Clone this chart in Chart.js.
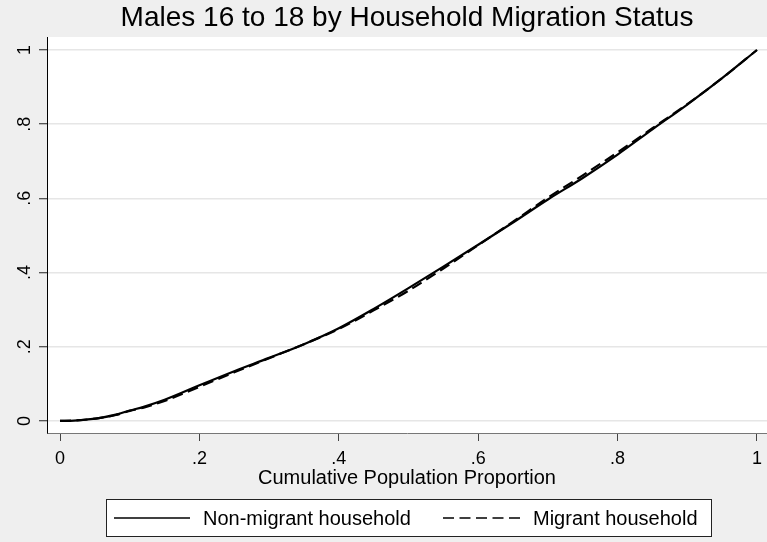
<!DOCTYPE html>
<html>
<head>
<meta charset="utf-8">
<title>Males 16 to 18 by Household Migration Status</title>
<script src="https://cdn.jsdelivr.net/npm/chart.js@4/dist/chart.umd.min.js"></script>
<style>
  html, body { margin: 0; padding: 0; background: #efefef; }
  #wrap { width: 767px; height: 542px; }
</style>
</head>
<body>
<div id="wrap"><canvas id="lorenz" width="767" height="542"></canvas></div>
<script>
// Cumulative population proportion (x) and cumulative share (y) for each group
const popShare = [0, 0.02, 0.04, 0.06, 0.08, 0.10, 0.12, 0.15, 0.20, 0.25, 0.30, 0.35, 0.40,
                  0.45, 0.50, 0.55, 0.60, 0.65, 0.70, 0.75, 0.80, 0.85, 0.90, 0.95, 1.00];
const nonMigrantShare = [0, 0.001, 0.004, 0.009, 0.017, 0.028, 0.038, 0.057, 0.096, 0.134, 0.170, 0.207, 0.250,
                         0.302, 0.358, 0.416, 0.475, 0.535, 0.597, 0.655, 0.718, 0.786, 0.853, 0.924, 1.000];
const migrantShare = [0, 0.001, 0.004, 0.009, 0.016, 0.027, 0.036, 0.054, 0.092, 0.131, 0.169, 0.207, 0.248,
                      0.298, 0.351, 0.411, 0.474, 0.537, 0.602, 0.662, 0.724, 0.789, 0.854, 0.924, 1.000];

const seriesNames = ['Non-migrant household', 'Migrant household'];
const tickValues = [0, 0.2, 0.4, 0.6, 0.8, 1];
const tickLabels = ['0', '.2', '.4', '.6', '.8', '1'];

const FONT = '"Liberation Sans", Arial, Helvetica, sans-serif';
const DASH = [11, 5.5];

const toPoints = (xs, ys) => xs.map((x, i) => ({ x: x, y: ys[i] }));
const labelFor = v => {
  const i = tickValues.findIndex(t => Math.abs(t - v) < 1e-9);
  return i >= 0 ? tickLabels[i] : '';
};

// Grey graph region, white plot region
const regionFill = {
  id: 'regionFill',
  beforeDraw(chart) {
    const { ctx, chartArea: a } = chart;
    ctx.save();
    ctx.fillStyle = '#efefef';
    ctx.fillRect(0, 0, chart.width, chart.height);
    ctx.fillStyle = '#ffffff';
    ctx.fillRect(a.left, a.top, a.right - a.left, a.bottom - a.top);
    ctx.restore();
  }
};

// Vertical axis labels, turned to read bottom-to-top
const rotatedYLabels = {
  id: 'rotatedYLabels',
  afterDraw(chart) {
    const { ctx } = chart;
    const ys = chart.scales.y;
    ctx.save();
    ctx.fillStyle = '#000';
    ctx.font = '18px ' + FONT;
    ctx.textAlign = 'center';
    ctx.textBaseline = 'middle';
    tickValues.forEach((v, i) => {
      ctx.save();
      ctx.translate(25, ys.getPixelForValue(v));
      ctx.rotate(-Math.PI / 2);
      ctx.fillText(tickLabels[i], 0, 0);
      ctx.restore();
    });
    ctx.restore();
  }
};

// Boxed legend below the axis title
const boxedLegend = {
  id: 'boxedLegend',
  afterDraw(chart) {
    const { ctx } = chart;
    const box = { x: 106, y: 499, w: 606, h: 38 };
    const midY = box.y + box.h / 2;
    ctx.save();
    ctx.fillStyle = '#ffffff';
    ctx.fillRect(box.x, box.y, box.w, box.h);
    ctx.strokeStyle = '#222';
    ctx.lineWidth = 1;
    ctx.strokeRect(box.x + 0.5, box.y + 0.5, box.w - 1, box.h - 1);

    const items = [
      { x0: 114, x1: 190, tx: 203 },
      { x0: 443, x1: 520, tx: 533 }
    ];
    chart.data.datasets.forEach((ds, i) => {
      const it = items[i];
      ctx.beginPath();
      ctx.setLineDash(ds.borderDash || []);
      ctx.strokeStyle = ds.borderColor;
      ctx.lineWidth = 1.6;
      ctx.moveTo(it.x0, midY);
      ctx.lineTo(it.x1, midY);
      ctx.stroke();
      ctx.setLineDash([]);
      ctx.fillStyle = '#000';
      ctx.font = '20px ' + FONT;
      ctx.textAlign = 'left';
      ctx.textBaseline = 'middle';
      ctx.fillText(ds.label, it.tx, midY + 1);
    });
    ctx.restore();
  }
};

new Chart(document.getElementById('lorenz'), {
  type: 'scatter',
  data: {
    datasets: [
      {
        label: seriesNames[0],
        data: toPoints(popShare, nonMigrantShare),
        showLine: true,
        borderColor: '#000000',
        borderWidth: 2.2,
        pointRadius: 0,
        cubicInterpolationMode: 'monotone'
      },
      {
        label: seriesNames[1],
        data: toPoints(popShare, migrantShare),
        showLine: true,
        borderColor: '#000000',
        borderWidth: 2.2,
        borderDash: DASH,
        pointRadius: 0,
        cubicInterpolationMode: 'monotone'
      }
    ]
  },
  options: {
    responsive: false,
    animation: false,
    devicePixelRatio: 1,
    layout: { padding: 0 },
    plugins: {
      legend: { display: false },
      tooltip: { enabled: false },
      title: {
        display: true,
        text: 'Males 16 to 18 by Household Migration Status',
        fullSize: false,
        color: '#000',
        font: { family: FONT, size: 28, weight: 'normal', lineHeight: 1.2 },
        padding: { top: 1.7, bottom: 1.7 }
      }
    },
    scales: {
      x: {
        type: 'linear',
        min: -0.0187,
        max: 1.0144,
        afterBuildTicks(scale) { scale.ticks = tickValues.map(v => ({ value: v })); },
        afterFit(scale) {
          scale.height = 109;
          scale.paddingLeft = 0;
          scale.paddingRight = 0;
        },
        ticks: {
          color: '#000',
          font: { family: FONT, size: 18 },
          padding: 7,
          maxRotation: 0,
          autoSkip: false,
          callback: v => labelFor(v)
        },
        grid: {
          drawOnChartArea: false,
          drawTicks: true,
          tickLength: 8,
          tickColor: '#444',
          tickWidth: 1
        },
        border: { display: true, color: '#777', width: 1 },
        title: {
          display: true,
          text: 'Cumulative Population Proportion',
          color: '#000',
          font: { family: FONT, size: 20, lineHeight: 1.2 },
          padding: { top: 0, bottom: 52 }
        }
      },
      y: {
        type: 'linear',
        min: -0.0325,
        max: 1.035,
        afterBuildTicks(scale) { scale.ticks = tickValues.map(v => ({ value: v })); },
        afterFit(scale) {
          scale.width = 47;
          scale.paddingTop = 0;
          scale.paddingBottom = 0;
        },
        ticks: { display: false },
        grid: {
          color: '#e6e6e6',
          lineWidth: 1.5,
          drawTicks: true,
          tickLength: 8,
          tickColor: '#222',
          tickWidth: 1
        },
        border: { display: true, color: '#000', width: 1 }
      }
    }
  },
  plugins: [regionFill, rotatedYLabels, boxedLegend]
});
</script>
</body>
</html>
